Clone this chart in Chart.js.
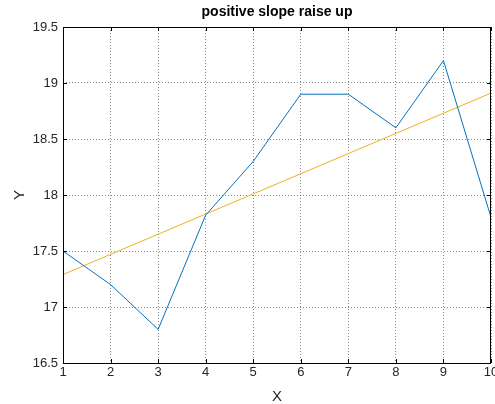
<!DOCTYPE html>
<html>
<head>
<meta charset="utf-8">
<script src="https://cdn.jsdelivr.net/npm/chart.js@4/dist/chart.umd.min.js"></script>
<style>
  html, body { margin: 0; padding: 0; background: #fff; }
  #wrap { width: 495px; height: 404px; }
</style>
</head>
<body>
<div id="wrap"><canvas id="slopeChart" width="495" height="404"></canvas></div>
<script>
// measured series and its straight-line fit
var xValues = [1, 2, 3, 4, 5, 6, 7, 8, 9, 10];
var yValues = [17.5, 17.2, 16.8, 17.82, 18.3, 18.9, 18.9, 18.6, 19.2, 17.8];
var fitX = [1, 10];
var fitY = [17.29, 18.91];
var xTicks = [1, 2, 3, 4, 5, 6, 7, 8, 9, 10];
var yTicks = [16.5, 17, 17.5, 18, 18.5, 19, 19.5];

function pts(xs, ys) {
    return xs.map(function(x, i) { return { x: x, y: ys[i] }; });
}

// black box round the axes with short ticks pointing inward
var boxPlugin = {
    id: 'boxTicks',
    afterDraw: function(chart) {
        var a = chart.chartArea, ctx = chart.ctx;
        var sx = chart.scales.x, sy = chart.scales.y;
        ctx.save();
        ctx.strokeStyle = '#000';
        ctx.lineWidth = 1;
        ctx.strokeRect(Math.round(a.left) + 0.5, Math.round(a.top) + 0.5,
            Math.round(a.right - a.left) - 1, Math.round(a.bottom - a.top));
        ctx.beginPath();
        xTicks.forEach(function(t) {
            var px = Math.round(sx.getPixelForValue(t)) + 0.5;
            ctx.moveTo(px, a.bottom); ctx.lineTo(px, a.bottom - 4);
            ctx.moveTo(px, a.top); ctx.lineTo(px, a.top + 4);
        });
        yTicks.forEach(function(t) {
            var py = Math.round(sy.getPixelForValue(t)) + 0.5;
            ctx.moveTo(a.left, py); ctx.lineTo(a.left + 4, py);
            ctx.moveTo(a.right, py); ctx.lineTo(a.right - 4, py);
        });
        ctx.stroke();
        ctx.restore();
    }
};

var fam = 'Arial, "Liberation Sans", sans-serif';
var tickFont = { family: fam, size: 13 };
var gridColor = 'rgba(60,60,60,0.6)';

new Chart(document.getElementById('slopeChart').getContext('2d'), {
    type: 'line',
    data: {
        datasets: [{
            data: pts(xValues, yValues),
            borderColor: '#0072BD',
            borderWidth: 1,
            pointRadius: 0,
            tension: 0
        }, {
            data: pts(fitX, fitY),
            borderColor: '#EDB120',
            borderWidth: 1,
            pointRadius: 0,
            tension: 0
        }]
    },
    options: {
        responsive: false,
        animation: false,
        layout: { padding: { left: 0, right: 4, top: 0, bottom: 0 } },
        plugins: {
            legend: { display: false },
            tooltip: { enabled: false },
            title: {
                display: true,
                fullSize: false,
                text: 'positive slope raise up',
                color: '#000',
                font: { family: fam, size: 14, weight: 'bold' },
                padding: { top: 4, bottom: 6.2 }
            }
        },
        scales: {
            x: {
                type: 'linear', min: 1, max: 10,
                afterBuildTicks: function(s) { s.ticks = xTicks.map(function(v) { return { value: v }; }); },
                afterFit: function(s) { s.height = 41; s.paddingLeft = 0; s.paddingRight = 0; },
                ticks: { color: '#262626', font: tickFont, padding: 2, maxRotation: 0 },
                grid: { color: gridColor, drawTicks: false },
                border: { display: false, dash: [1, 2] },
                title: { display: true, text: 'X', color: '#262626', padding: 0,
                    font: { family: fam, size: 15, lineHeight: 1 } }
            },
            y: {
                type: 'linear', min: 16.5, max: 19.5,
                afterBuildTicks: function(s) { s.ticks = yTicks.map(function(v) { return { value: v }; }); },
                afterFit: function(s) { s.width = 63; },
                ticks: { color: '#262626', font: tickFont, padding: 5,
                    callback: function(v) { return String(Math.round(v * 10) / 10); } },
                grid: { color: gridColor, drawTicks: false },
                border: { display: false, dash: [1, 2] },
                title: { display: true, text: 'Y', color: '#262626', padding: { top: 12, bottom: 0 },
                    font: { family: fam, size: 15, lineHeight: 1 } }
            }
        }
    },
    plugins: [boxPlugin]
});
</script>
</body>
</html>
